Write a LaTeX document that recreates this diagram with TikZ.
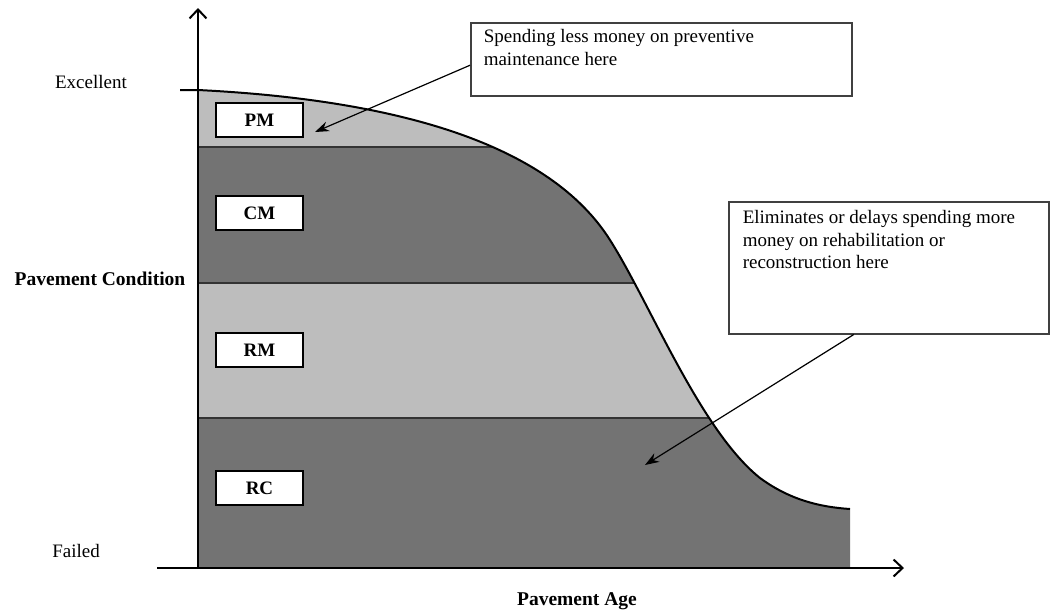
\documentclass[tikz,border=0pt]{standalone}
\usepackage{fontspec}
\setmainfont{Liberation Serif}
\usetikzlibrary{arrows.meta}

\begin{document}
\begin{tikzpicture}[x=1pt,y=-1pt]
	\tikzset{lightband/.style={fill=black!26},
		darkband/.style={fill=black!55},
		bandline/.style={draw=black!80,line width=1.5pt},
		tag/.style={draw=black,line width=1.6pt,fill=white,minimum width=87pt,minimum height=34pt,font=\fontsize{19}{22}\selectfont\bfseries},
		note/.style={draw=black!75,line width=1.5pt,fill=white,anchor=north west,font=\fontsize{19}{22.5}\selectfont},
		lbl/.style={font=\fontsize{19}{22}\selectfont},
		axis/.style={line width=2.5pt,-{Straight Barb[length=9pt,width=17pt,line width=2pt]}},
		pointer/.style={line width=1.2pt,-{Stealth[length=14pt,width=10pt]}}}
	\useasboundingbox (0,0) rectangle (1050,611);
	% area under the curve
	\begin{scope}
		\clip (198,90) .. controls (400,100) and (550,145) .. (610,240) .. controls (650,303) and (700,430) .. (760,478) .. controls (790,500) and (820,507) .. (850,509) -- (850,568) -- (198,568) -- cycle;
		\fill[lightband] (198,80) rectangle (860,147);
		\fill[darkband] (198,147) rectangle (860,283);
		\fill[lightband] (198,283) rectangle (860,418);
		\fill[darkband] (198,418) rectangle (860,570);
		\draw[bandline] (198,147) -- (860,147);
		\draw[bandline] (198,283) -- (860,283);
		\draw[bandline] (198,418) -- (860,418);
	\end{scope}
	\draw[line width=2pt] (180,90) -- (198,90) .. controls (400,100) and (550,145) .. (610,240) .. controls (650,303) and (700,430) .. (760,478) .. controls (790,500) and (820,507) .. (850,509);
	% axes
	\coordinate (origin) at (198,568);
	\draw[axis] (origin) -- (198,8);
	\draw[axis] (157,568) -- (904,568);
	% treatment boxes
	\node[tag] (pm) at (259.5,120) {PM};
	\node[tag] (cm) at (259.5,213) {CM};
	\node[tag] (rm) at (259.5,350) {RM};
	\node[tag] (rc) at (259.5,488) {RC};
	% callouts
	\node[note,inner xsep=13pt,inner ysep=7pt] (lessmoney) at (470,22) {\parbox[t][59pt][t]{355pt}{\raggedright Spending less money on preventive\\maintenance here}};
	\node[note,inner xsep=14pt,inner ysep=9pt] (delays) at (728,201) {\parbox[t][114pt][t]{292pt}{\raggedright Eliminates or delays spending more\\money on rehabilitation or\\reconstruction here}};
	\coordinate (pmspot) at (315,132);
	\coordinate (rcspot) at (645,465);
	\draw[pointer] ([yshift=-6pt]lessmoney.west) -- (pmspot);
	\draw[pointer] ([xshift=-35pt]delays.south) -- (rcspot);
	% axis labels
	\node[lbl] (excellent) at (91,82) {Excellent};
	\node[lbl,font=\fontsize{19.5}{22}\selectfont\bfseries] (condition) at (100,279) {Pavement Condition};
	\node[lbl] (failed) at (76,551) {Failed};
	\node[lbl,font=\fontsize{19.5}{22}\selectfont\bfseries] (age) at (577,601) {Pavement Age};
\end{tikzpicture}
\end{document}
